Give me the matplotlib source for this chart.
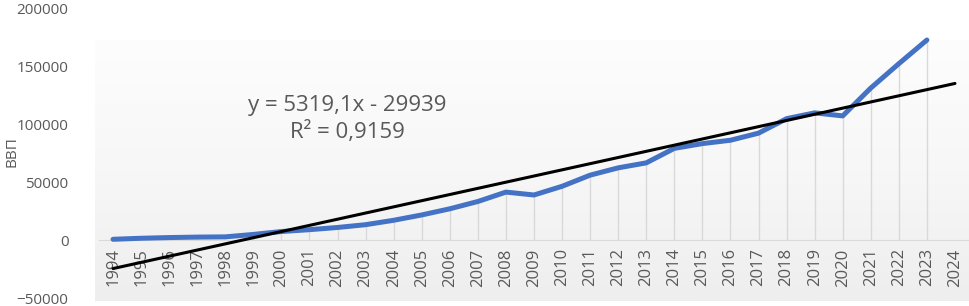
import matplotlib
matplotlib.use("Agg")

import numpy as np
import matplotlib.pyplot as plt
from matplotlib.colors import LinearSegmentedColormap

# ==================================================
# Data
# ==================================================
years = [str(y) for y in range(1994, 2025)]
gdp = [610, 1500, 2100, 2500, 2700, 4800, 7300, 8900, 10800, 13200,
       17000, 21600, 26900, 33200, 41300, 38800, 46300, 55900, 62200, 66500,
       79000, 83100, 86000, 92100, 104600, 109600, 107000, 131000, 152000, 172400]
trend_slope = 5319.1
trend_intercept = -29939
r_squared = "0,9159"

# ==================================================
# Figure
# ==================================================
plt.rcParams["font.family"] = ["Open Sans", "DejaVu Sans"]
grey_text = "#595959"

fig = plt.figure(figsize=(9.69, 3.06), dpi=100)
ax = fig.add_axes([99 / 969, 8 / 306, 870 / 969, 290 / 306])

# gradient plot-area background (near white -> light grey)
cmap = LinearSegmentedColormap.from_list("bg", ["#fdfdfd", "#f7f7f7", "#eeeeee"])
grad = np.linspace(0, 1, 256).reshape(-1, 1)
ax.imshow(grad, aspect="auto", cmap=cmap, extent=[-0.005, 1, -0.01, 0.89],
          transform=ax.transAxes, origin="upper", zorder=0, clip_on=False)

x = np.arange(len(gdp))
x_all = np.arange(len(years))

# drop lines
ax.vlines(x, 0, gdp, color="#d9d9d9", lw=1.0, zorder=1)

ax.plot(x, gdp, color="#4472C4", lw=3.6, solid_capstyle="round", zorder=3)

# linear trend (x counted from 1)
trend = trend_slope * (x_all + 1) + trend_intercept
ax.plot(x_all, trend, color="black", lw=2.2, solid_capstyle="round", zorder=4)

ax.text(8.35, 104000, "y = 5319,1x - 29939\nR² = " + r_squared, ha="center",
        va="center", fontsize=16, color=grey_text, linespacing=1.3, zorder=5)

ax.set_xlim(-0.5, len(years) - 0.5)
ax.set_ylim(-50000, 200000)

for side in ["top", "right", "left"]:
    ax.spines[side].set_visible(False)
ax.spines["bottom"].set_position(("data", 0))
ax.spines["bottom"].set_color("#d9d9d9")
ax.spines["bottom"].set_zorder(2)

ax.set_yticks(range(-50000, 200001, 50000))
ax.set_xticks(x_all)
ax.set_xticklabels(years)
ax.tick_params(axis="both", length=0, labelsize=11, colors=grey_text)
ax.tick_params(axis="x", pad=6, labelrotation=90, labelsize=12)
ax.tick_params(axis="y", pad=22)

fig.text(12 / 969, 1 - 152 / 306, "ВВП", rotation=90, ha="center",
         va="center", fontsize=11, color=grey_text)

fig.savefig("out.png", dpi=100)
